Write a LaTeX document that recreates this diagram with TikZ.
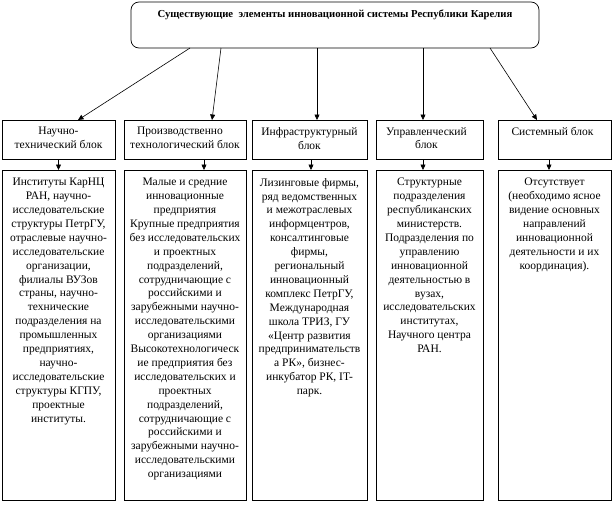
\documentclass[tikz,border=0pt]{standalone}
\usepackage{fontspec}
\setmainfont{Liberation Serif}
\usetikzlibrary{arrows.meta}
\begin{document}
\begin{tikzpicture}[x=1pt,y=-1pt,
  frame/.style={draw, line width=0.7pt, inner sep=0pt, outer sep=0pt, anchor=north west},
  ubox/.style={frame, minimum height=39pt},
  lbox/.style={frame, minimum height=330pt},
  txt/.style={inner sep=0pt, align=center, anchor=north, font=\fontsize{11.5pt}{13.9pt}\selectfont},
  ttl/.style={inner sep=0pt, anchor=north, font=\fontsize{10.7pt}{13pt}\selectfont\bfseries},
  arr/.style={line width=0.6pt, -{Triangle[length=5.5pt,width=5pt]}}
]
\useasboundingbox (0,0) rectangle (614,506);
% title
\node[frame, rounded corners=8pt, minimum width=408pt, minimum height=46pt] (title) at (131,2) {};
\node[ttl] (titletext) at ([yshift=-8pt]title.north) {Существующие\ \ элементы инновационной системы Республики Карелия};
% upper boxes
\node[ubox, minimum width=113pt] (u1) at (2,120) {};
\node[ubox, minimum width=122pt] (u2) at (124,120) {};
\node[ubox, minimum width=115pt] (u3) at (252,120) {};
\node[ubox, minimum width=107pt] (u4) at (376,120) {};
\node[ubox, minimum width=113pt] (u5) at (498,120) {};
\node[txt] (ut1) at ([yshift=-7pt]u1.north) {Научно-\\технический блок};
\node[txt] (ut2) at ([yshift=-7pt]u2.north) {Производственно\hspace*{10pt}\\технологический блок};
\node[txt] (ut3) at ([yshift=-7pt]u3.north) {Инфраструктурный\\блок};
\node[txt] (ut4) at ([xshift=-3pt,yshift=-7pt]u4.north) {Управленческий\\блок};
\node[txt] (ut5) at ([xshift=-2pt,yshift=-7pt]u5.north) {Системный блок};
% lower boxes
\node[lbox, minimum width=113pt] (l1) at (2,170) {};
\node[lbox, minimum width=122pt] (l2) at (124,170) {};
\node[lbox, minimum width=115pt] (l3) at (252,170) {};
\node[lbox, minimum width=107pt] (l4) at (376,170) {};
\node[lbox, minimum width=113pt] (l5) at (498,170) {};
\node[txt] (lt1) at ([yshift=-8pt]l1.north) {Институты КарНЦ\\РАН, научно-\\исследовательские\\структуры ПетрГУ,\\отраслевые научно-\\исследовательские\\организации,\\филиалы ВУЗов\\страны, научно-\\технические\\подразделения на\\промышленных\\предприятиях,\\научно-\\исследовательские\\структуры КГПУ,\\проектные\\институты.};
\node[txt] (lt2) at ([yshift=-8pt]l2.north) {Малые и средние\\инновационные\\предприятия\\Крупные предприятия\\без исследовательских\\и проектных\\подразделений,\\сотрудничающие с\\российскими и\\зарубежными научно-\\исследовательскими\\организациями\\Высокотехнологическ\\ие предприятия без\\исследовательских и\\проектных\\подразделений,\\сотрудничающие с\\российскими и\\зарубежными научно-\\исследовательскими\\организациями};
\node[txt] (lt3) at ([yshift=-8pt]l3.north) {Лизинговые фирмы,\\ряд ведомственных\\и межотраслевых\\информцентров,\\консалтинговые\\фирмы,\\региональный\\инновационный\\комплекс ПетрГУ,\\Международная\\школа ТРИЗ, ГУ\\«Центр развития\\предпринимательств\\а РК», бизнес-\\инкубатор РК, IT-\\парк.};
\node[txt] (lt4) at ([yshift=-8pt]l4.north) {Структурные\\подразделения\\республиканских\\министерств.\\Подразделения по\\управлению\\инновационной\\деятельностью в\\вузах,\\исследовательских\\институтах,\\Научного центра\\РАН.};
\node[txt] (lt5) at ([yshift=-8pt]l5.north) {Отсутствует\\(необходимо ясное\\видение основных\\направлений\\инновационной\\деятельности и их\\координация).};
% arrows from title
\draw[arr] ([xshift=-145pt]title.south) -- ([xshift=19.5pt]u1.north);
\draw[arr] ([xshift=-114pt]title.south) -- ([xshift=27pt]u2.north);
\draw[arr] ([xshift=-18pt]title.south) -- ([xshift=7.5pt]u3.north);
\draw[arr] ([xshift=88pt]title.south) -- ([xshift=-6.5pt]u4.north);
\draw[arr] ([xshift=155pt]title.south) -- ([xshift=-17.5pt]u5.north);
% short arrows
\draw[arr] ([xshift=0pt]u1.south) -- ([xshift=0pt]l1.north);
\draw[arr] ([xshift=19pt]u2.south) -- ([xshift=19pt]l2.north);
\draw[arr] ([xshift=1.5pt]u3.south) -- ([xshift=1.5pt]l3.north);
\draw[arr] ([xshift=-6.5pt]u4.south) -- ([xshift=-6.5pt]l4.north);
\draw[arr] ([xshift=-5.5pt]u5.south) -- ([xshift=-5.5pt]l5.north);
\end{tikzpicture}
\end{document}
